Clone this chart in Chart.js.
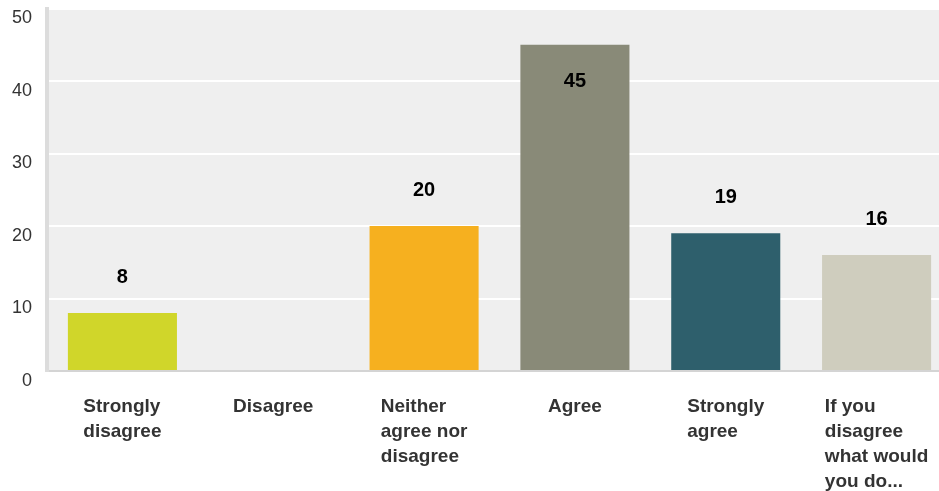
<!DOCTYPE html>
<html>
<head>
<meta charset="utf-8">
<script src="https://cdn.jsdelivr.net/npm/chart.js@4/dist/chart.umd.min.js"></script>
<style>
  html, body { margin: 0; padding: 0; background: #fff; overflow: hidden; }
  #wrap { width: 952px; height: 491px; position: relative; }
</style>
</head>
<body>
<div id="wrap"><canvas id="c"></canvas></div>
<script>
// Survey responses
const categories = [
  ['Strongly', 'disagree'],
  ['Disagree'],
  ['Neither', 'agree nor', 'disagree'],
  ['Agree'],
  ['Strongly', 'agree'],
  ['If you', 'disagree', 'what would', 'you do...']
];
const responses = [8, 0, 20, 45, 19, 16];
const barColors = ['#d0d62a', '#d0d62a', '#f6b01f', '#898a78', '#2e5f6c', '#cfcdbe'];
const yTicks = [0, 10, 20, 30, 40, 50];

const FONT = '"Liberation Sans", Arial, Helvetica, sans-serif';

// Grey panel behind the plot
const panelBg = {
  id: 'panelBg',
  beforeDraw(chart) {
    const { ctx, chartArea: a } = chart;
    ctx.save();
    ctx.fillStyle = '#efefef';
    ctx.fillRect(a.left, a.top, a.right - a.left, a.bottom - a.top);
    ctx.restore();
  }
};

// Value above each bar (inside when there is no room) and wrapped category names
const annotate = {
  id: 'annotate',
  afterDatasetsDraw(chart) {
    const { ctx, chartArea: a } = chart;
    const meta = chart.getDatasetMeta(0);
    ctx.save();
    ctx.font = 'bold 20px ' + FONT;
    ctx.fillStyle = '#000';
    ctx.textAlign = 'center';
    ctx.textBaseline = 'middle';
    meta.data.forEach((bar, i) => {
      const v = responses[i];
      if (!v) return;
      let y = bar.y - 36;
      if (y < a.top + 30) y = bar.y + 37;
      ctx.fillText(String(v), bar.x, y);
    });
    // category labels: block centred under the bar, lines left-aligned
    ctx.font = 'bold 19px ' + FONT;
    ctx.fillStyle = '#333';
    ctx.textAlign = 'left';
    meta.data.forEach((bar, i) => {
      const lines = categories[i];
      const w = Math.max(...lines.map(l => ctx.measureText(l).width));
      const x0 = bar.x - w / 2;
      lines.forEach((l, k) => ctx.fillText(l, x0, a.bottom + 36 + k * 25));
    });
    ctx.restore();
  }
};

new Chart(document.getElementById('c'), {
  type: 'bar',
  data: {
    labels: categories.map(c => c.join(' ')),
    datasets: [{
      data: responses,
      backgroundColor: barColors,
      borderWidth: 0,
      categoryPercentage: 1,
      barPercentage: 0.723
    }]
  },
  options: {
    responsive: true,
    maintainAspectRatio: false,
    animation: false,
    layout: { padding: { top: 8.5, bottom: 120, left: 0, right: 0 } },
    plugins: { legend: { display: false }, tooltip: { enabled: false } },
    scales: {
      x: {
        display: true,
        grid: { display: false, drawTicks: false },
        ticks: { display: false },
        border: { display: true, color: '#d4d4d4', width: 2 },
        afterFit(s) { s.height = 0; s.paddingLeft = 0; s.paddingRight = 0; }
      },
      y: {
        min: 0,
        max: 50,
        afterBuildTicks(s) { s.ticks = yTicks.map(v => ({ value: v })); },
        afterFit(s) { s.width = 47; s.paddingTop = 0; s.paddingBottom = 0; },
        grid: { color: '#ffffff', lineWidth: 2, drawTicks: false },
        border: { display: true, color: '#dcdcdc', width: 4 },
        ticks: {
          padding: 15,
          labelOffset: 10,
          color: '#333',
          font: { family: FONT, size: 18 }
        }
      }
    }
  },
  plugins: [panelBg, annotate]
});
</script>
</body>
</html>
